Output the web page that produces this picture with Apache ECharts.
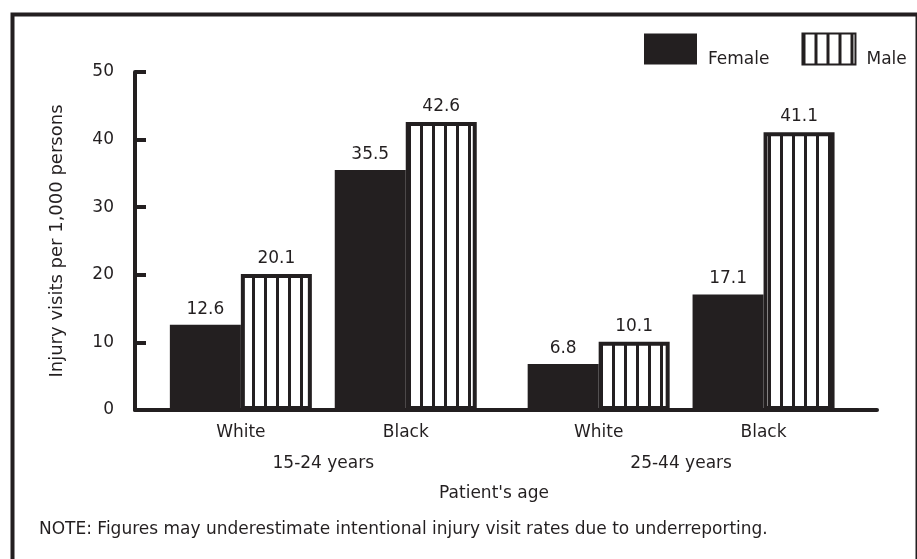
<!DOCTYPE html>
<html>
<head>
<meta charset="utf-8">
<script src="https://cdn.jsdelivr.net/npm/echarts@6/dist/echarts.min.js"></script>
<style>
html,body{margin:0;padding:0;background:#fff;}
#chart{width:917px;height:559px;}
</style>
</head>
<body>
<div id="chart"></div>
<script>
// ---- data ----
const categories = ['White', 'Black', 'White', 'Black'];
const categoryGroup = [0, 0, 1, 1];
const ageGroups = ['15-24 years', '25-44 years'];
const female = [12.6, 35.5, 6.8, 17.1];
const male = [20.1, 42.6, 10.1, 41.1];
const yTicks = [0, 10, 20, 30, 40, 50];
const seriesNames = ['Female', 'Male'];
const yAxisTitle = 'Injury visits per 1,000 persons';
const xAxisTitle = "Patient's age";
const noteText = 'NOTE: Figures may underestimate intentional injury visit rates due to underreporting.';

// ---- layout helpers (category slots on a value axis, with a gap between age groups) ----
const OFFSET = 0.642, GROUP_STEP = 2.17, X_MAX = 4.5;
const slot = categories.map((c, i) => {
  const within = categoryGroup.slice(0, i).filter(g => g === categoryGroup[i]).length;
  return +(OFFSET + within + categoryGroup[i] * GROUP_STEP).toFixed(4);
});
const groupCenter = ageGroups.map((g, gi) => {
  const s = slot.filter((v, i) => categoryGroup[i] === gi);
  return +((Math.min(...s) + Math.max(...s)) / 2).toFixed(4);
});

const INK = '#231f20';
const FONT = '"DejaVu Sans", "Liberation Sans", Arial, sans-serif';

// striped pattern for Male
const pc = document.createElement('canvas');
pc.width = 12; pc.height = 8;
const pctx = pc.getContext('2d');
pctx.fillStyle = '#ffffff'; pctx.fillRect(0, 0, 12, 8);
pctx.fillStyle = INK; pctx.fillRect(0, 0, 3, 8);

const chart = echarts.init(document.getElementById('chart'), null, {renderer: 'canvas'});

function findIdx(arr, v) { return arr.findIndex(p => Math.abs(p - v) < 1e-3); }

const option = {
  backgroundColor: '#ffffff',
  animation: false,
  textStyle: {fontFamily: FONT, color: INK},
  title: {
    text: noteText,
    left: 34, top: 516,
    textStyle: {fontFamily: FONT, fontSize: 17, fontWeight: 'normal', color: INK}
  },
  graphic: [{
    type: 'rect', left: 10, top: 12,
    shape: {width: 905, height: 580},
    style: {fill: 'none', stroke: INK, lineWidth: 4},
    silent: true
  }],
  legend: {
    left: 639, top: 22,
    itemWidth: 53, itemHeight: 31, itemGap: 32,
    icon: 'rect',
    data: seriesNames,
    formatter: name => '\n' + name,
    textStyle: {fontFamily: FONT, fontSize: 17, lineHeight: 22, color: INK, padding: [0, 0, 0, 6]}
  },
  grid: {left: 135, right: 40, top: 72, bottom: 149, containLabel: false},
  xAxis: [{
    type: 'value', min: 0, max: X_MAX,
    axisLine: {show: true, onZero: false, lineStyle: {color: INK, width: 4}},
    axisTick: {show: false},
    splitLine: {show: false},
    axisLabel: {
      customValues: slot,
      margin: 14,
      fontSize: 17, color: INK, fontFamily: FONT,
      formatter: v => { const i = findIdx(slot, v); return i >= 0 ? categories[i] : ''; }
    },
    name: xAxisTitle, nameLocation: 'middle', nameGap: 75,
    nameTextStyle: {fontSize: 17, color: INK, fontFamily: FONT, padding: [0, 24, 0, 0]}
  }, {
    type: 'value', min: 0, max: X_MAX, position: 'bottom', offset: 0,
    axisLine: {show: false}, axisTick: {show: false}, splitLine: {show: false},
    axisLabel: {
      customValues: groupCenter,
      margin: 45,
      fontSize: 17, color: INK, fontFamily: FONT,
      formatter: v => { const i = findIdx(groupCenter, v); return i >= 0 ? ageGroups[i] : ''; }
    }
  }],
  yAxis: {
    type: 'value', min: 0, max: 50, interval: 10,
    axisLine: {show: true, lineStyle: {color: INK, width: 4}},
    axisTick: {show: true, inside: true, length: 11, lineStyle: {color: INK, width: 4}},
    splitLine: {show: false},
    axisLabel: {
      customValues: yTicks,
      margin: 21, fontSize: 17, color: INK, fontFamily: FONT
    },
    name: yAxisTitle, nameLocation: 'middle', nameGap: 69,
    nameTextStyle: {fontSize: 18, color: INK, fontFamily: FONT}
  },
  series: [{
    name: seriesNames[0], type: 'bar', xAxisIndex: 0,
    barWidth: 71, barGap: '0%',
    data: female.map((v, i) => [slot[i], v]),
    itemStyle: {color: INK},
    label: {
      show: true, position: 'top', distance: 7,
      fontSize: 17, color: INK, fontFamily: FONT,
      formatter: p => p.value[1].toFixed(1)
    }
  }, {
    name: seriesNames[1], type: 'bar', xAxisIndex: 0,
    barWidth: 71, barGap: '0%',
    data: male.map((v, i) => [slot[i], v]),
    itemStyle: {color: {image: pc, repeat: 'repeat'}, borderColor: INK, borderWidth: 4},
    label: {
      show: true, position: 'top', distance: 7,
      fontSize: 17, color: INK, fontFamily: FONT,
      formatter: p => p.value[1].toFixed(1)
    }
  }]
};
chart.setOption(option);
</script>
</body>
</html>
